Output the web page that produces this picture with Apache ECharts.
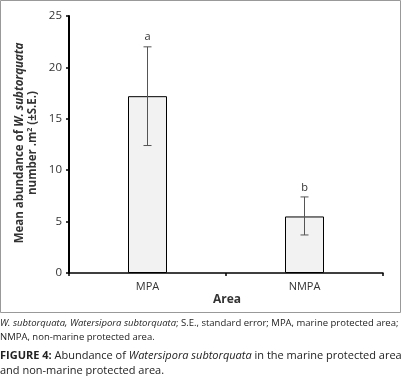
<!DOCTYPE html>
<html>
<head>
<meta charset="utf-8">
<script src="https://cdn.jsdelivr.net/npm/echarts@6/dist/echarts.min.js"></script>
<style>
  html, body { margin: 0; padding: 0; background: #fff; }
  #chart { width: 402px; height: 376px; }
</style>
</head>
<body>
<div id="chart"></div>
<script>
const categories = ['MPA', 'NMPA']
const meanValues = [17.2, 5.5]
const errLow = [12.4, 3.7]
const errHigh = [22.0, 7.4]
const sigLetters = ['a', 'b']
const yTicks = [0, 5, 10, 15, 20, 25]

const chart = echarts.init(document.getElementById('chart'))

const errData = categories.map((c, i) => [i, errLow[i], errHigh[i]])

const opt = {
    animation: false,
    textStyle: { fontFamily: 'Open Sans' },
    grid: { left: 69, top: 16, right: 19, bottom: 103 },
    xAxis: {
        type: 'category',
        data: categories,
        boundaryGap: true,
        axisLine: { lineStyle: { color: '#000', width: 1.5 } },
        axisTick: { show: true, length: 3, lineStyle: { color: '#000', width: 1.5 } },
        axisLabel: { color: '#333', fontSize: 11, margin: 8 }
    },
    yAxis: {
        type: 'value',
        min: yTicks[0],
        max: yTicks[yTicks.length - 1],
        interval: 5,
        splitLine: { show: false },
        axisLine: { show: true, lineStyle: { color: '#000', width: 2 } },
        axisTick: { show: true, length: 3, lineStyle: { color: '#000', width: 1.5 } },
        axisLabel: { color: '#333', fontSize: 11.5, margin: 7 }
    },
    series: [
        {
            type: 'bar',
            data: meanValues,
            barWidth: 39,
            itemStyle: { color: '#f2f2f2', borderColor: '#000', borderWidth: 1 }
        },
        {
            type: 'custom',
            data: errData,
            z: 5,
            renderItem: function (params, api) {
                const lo = api.coord([api.value(0), api.value(1)])
                const hi = api.coord([api.value(0), api.value(2)])
                const x = lo[0], cap = 4
                const st = { stroke: '#555', lineWidth: 1 }
                return {
                    type: 'group',
                    children: [
                        { type: 'line', shape: { x1: x, y1: lo[1], x2: x, y2: hi[1] }, style: st },
                        { type: 'line', shape: { x1: x - cap, y1: hi[1], x2: x + cap, y2: hi[1] }, style: st },
                        { type: 'line', shape: { x1: x - cap, y1: lo[1], x2: x + cap, y2: lo[1] }, style: st },
                        {
                            type: 'text',
                            style: {
                                text: sigLetters[params.dataIndex],
                                x: x, y: hi[1] - 4,
                                align: 'center', verticalAlign: 'bottom',
                                fontSize: 11, fill: '#333', fontFamily: 'Open Sans'
                            }
                        }
                    ]
                }
            }
        }
    ],
    graphic: [
        {
            type: 'rect',
            shape: { x: 0.5, y: 0.5, width: 400, height: 312 },
            style: { fill: null, stroke: '#999', lineWidth: 1 },
            z: -10
        },
        {
            type: 'text',
            x: 26, y: 143,
            rotation: Math.PI / 2,
            style: {
                text: '{b|Mean abundance of }{bi|W. subtorquata}\n{b|number .m}{sup|2}{b| (±S.E.)}',
                align: 'center', verticalAlign: 'middle',
                lineHeight: 13,
                rich: {
                    b: { fontSize: 11.5, fontWeight: 'bold', fill: '#333', fontFamily: 'Open Sans', lineHeight: 13 },
                    bi: { fontSize: 11.5, fontWeight: 'bold', fontStyle: 'italic', fill: '#333', fontFamily: 'Open Sans', lineHeight: 13 },
                    sup: { fontSize: 7, fontWeight: 'bold', fill: '#333', fontFamily: 'Open Sans', verticalAlign: 'top', lineHeight: 13 }
                }
            }
        },
        {
            type: 'text',
            x: 227, y: 300,
            style: {
                text: 'Area', align: 'center', verticalAlign: 'middle',
                fontSize: 12, fontWeight: 'bold', fill: '#333', fontFamily: 'Open Sans'
            }
        },
        {
            type: 'text',
            x: 0, y: 316,
            style: {
                text: '{i|W. subtorquata, Watersipora subtorquata}{n|; S.E., standard error; MPA, marine protected area;}\n{n|NMPA, non-marine protected area.}',
                lineHeight: 14,
                rich: {
                    i: { fontSize: 9.5, fontStyle: 'italic', fill: '#222', fontFamily: 'Open Sans', lineHeight: 14 },
                    n: { fontSize: 9.5, fill: '#222', fontFamily: 'Open Sans', lineHeight: 14 }
                }
            }
        },
        {
            type: 'text',
            x: 0, y: 348,
            style: {
                text: '{b|FIGURE 4:}{n| Abundance of }{i|Watersipora subtorquata}{n| in the marine protected area}\n{n|and non-marine protected area.}',
                lineHeight: 15,
                rich: {
                    b: { fontSize: 11, fontWeight: 'bold', fill: '#222', fontFamily: 'Open Sans', lineHeight: 15 },
                    i: { fontSize: 11, fontStyle: 'italic', fill: '#222', fontFamily: 'Open Sans', lineHeight: 15 },
                    n: { fontSize: 11, fill: '#222', fontFamily: 'Open Sans', lineHeight: 15 }
                }
            }
        }
    ]
}
chart.setOption(opt)

window.addEventListener('resize', function () {
    chart.resize()
})
</script>
</body>
</html>
